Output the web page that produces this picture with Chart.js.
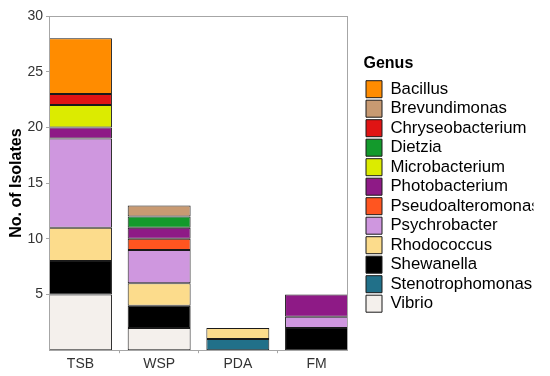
<!DOCTYPE html>
<html>
<head>
<meta charset="utf-8">
<script src="https://cdn.jsdelivr.net/npm/chart.js@4/dist/chart.umd.min.js"></script>
<style>
html,body{margin:0;padding:0;background:#fff;}
#wrap{width:550px;height:376px;position:relative;}
</style>
</head>
<body>
<div id="wrap"><canvas id="c" width="550" height="376"></canvas></div>
<script>
const categories = ["TSB", "WSP", "PDA", "FM"];
const genera = ["Bacillus","Brevundimonas","Chryseobacterium","Dietzia","Microbacterium","Photobacterium","Pseudoalteromonas","Psychrobacter","Rhodococcus","Shewanella","Stenotrophomonas","Vibrio"];
const colors = ["#FF8C00","#C89A72","#E01414","#139A2C","#DCEB00","#8E1A86","#FF5520","#CF97DF","#FCDC8C","#000000","#217089","#F4F0EC"];
// counts per genus for TSB, WSP, PDA, FM
const Bacillus          = [5, 0, 0, 0];
const Brevundimonas     = [0, 1, 0, 0];
const Chryseobacterium  = [1, 0, 0, 0];
const Dietzia           = [0, 1, 0, 0];
const Microbacterium    = [2, 0, 0, 0];
const Photobacterium    = [1, 1, 0, 2];
const Pseudoalteromonas = [0, 1, 0, 0];
const Psychrobacter     = [8, 3, 0, 1];
const Rhodococcus       = [3, 2, 1, 0];
const Shewanella        = [3, 2, 0, 2];
const Stenotrophomonas  = [0, 0, 1, 0];
const Vibrio            = [5, 2, 0, 0];
const values = [Bacillus,Brevundimonas,Chryseobacterium,Dietzia,Microbacterium,Photobacterium,Pseudoalteromonas,Psychrobacter,Rhodococcus,Shewanella,Stenotrophomonas,Vibrio];
const yTicks = [5, 10, 15, 20, 25, 30];

const datasets = [];
for (let g = genera.length - 1; g >= 0; g--) {
  datasets.push({
    label: genera[g],
    data: values[g].map((v, i) => ({x: i, y: v})),
    backgroundColor: colors[g],
    borderColor: "#1a1a1a",
    borderWidth: 1,
    borderSkipped: false,
    categoryPercentage: 1,
    barPercentage: 0.8,
    stack: "s"
  });
}

const panelBorder = {
  id: "panelBorder",
  afterDatasetsDraw(chart) {
    const a = chart.chartArea, ctx = chart.ctx;
    ctx.save();
    ctx.strokeStyle = "#a6a6a6";
    ctx.lineWidth = 1;
    ctx.strokeRect(Math.round(a.left) + 0.5, Math.round(a.top) + 0.5, Math.round(a.right - a.left) - 1, Math.round(a.bottom - a.top));
    ctx.restore();
  }
};

const font = "Arial, 'Liberation Sans', sans-serif";
new Chart(document.getElementById("c"), {
  type: "bar",
  data: { datasets },
  plugins: [panelBorder],
  options: {
    responsive: false,
    animation: false,
    layout: { padding: { top: 16, right: 16.5, bottom: 0, left: 0 } },
    scales: {
      x: {
        type: "linear",
        stacked: true,
        min: -0.4, max: 3.4,
        offset: false,
        afterBuildTicks: s => { s.ticks = categories.map((c, i) => ({value: i})); },
        ticks: { callback: v => categories[v], color: "#333", font: { family: font, size: 14 }, padding: 3, maxRotation: 0, autoSkip: false },
        grid: { display: true, drawOnChartArea: false, drawTicks: true, tickLength: 3, color: "#a6a6a6" },
        border: { display: false }
      },
      y: {
        stacked: true,
        min: 0, max: 30,
        afterBuildTicks: s => { s.ticks = yTicks.map(v => ({value: v})); },
        afterFit: s => { s.width = 49; },
        ticks: { color: "#333", font: { family: font, size: 14 }, padding: 3 },
        grid: { display: true, drawOnChartArea: false, drawTicks: true, tickLength: 3, color: "#a6a6a6" },
        border: { display: false },
        title: { display: true, text: "No. of Isolates", color: "#000", font: { family: font, size: 16, weight: "bold" }, padding: { top: 7, bottom: 0 } }
      },
      y2: {
        position: "right",
        min: 0, max: 30,
        display: true,
        afterFit: s => { s.width = 15.5; },
        ticks: { display: false },
        grid: { display: false, drawTicks: false },
        border: { display: false }
      }
    },
    plugins: {
      tooltip: { enabled: false },
      legend: {
        position: "right",
        align: "start",
        reverse: true,
        maxWidth: 170,
        title: { display: true, text: "Genus", position: "start", color: "#000", font: { family: font, size: 16, weight: "bold" }, padding: { top: 40, bottom: 3 } },
        labels: { boxWidth: 16, boxHeight: 17, padding: 2.5, color: "#000", font: { family: font, size: 16.8 } }
      }
    }
  }
});
</script>
</body>
</html>
